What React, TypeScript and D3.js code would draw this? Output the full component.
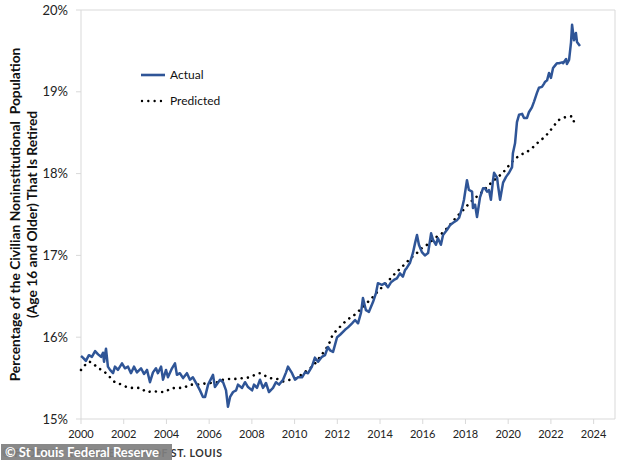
import React from "react";
import * as d3 from "d3";

const actualYears = [2000.00,2000.09,2000.23,2000.37,2000.51,2000.66,2000.80,2000.94,2001.03,2001.08,2001.17,2001.26,2001.36,2001.50,2001.59,2001.73,2001.92,2002.06,2002.20,2002.34,2002.48,2002.62,2002.81,2002.95,2003.09,2003.23,2003.37,2003.51,2003.60,2003.75,2003.84,2003.98,2004.07,2004.26,2004.40,2004.49,2004.63,2004.78,2004.96,2005.10,2005.24,2005.43,2005.57,2005.71,2005.81,2005.95,2006.18,2006.27,2006.51,2006.65,2006.79,2006.88,2006.98,2007.12,2007.26,2007.35,2007.54,2007.68,2007.82,2008.01,2008.10,2008.24,2008.38,2008.52,2008.66,2008.80,2008.99,2009.13,2009.27,2009.46,2009.60,2009.69,2009.88,2010.02,2010.16,2010.35,2010.49,2010.63,2010.81,2010.95,2011.10,2011.28,2011.42,2011.56,2011.66,2011.80,2011.99,2012.13,2012.36,2012.50,2012.69,2012.83,2012.97,2013.11,2013.20,2013.34,2013.48,2013.67,2013.81,2013.90,2014.09,2014.23,2014.37,2014.51,2014.65,2014.79,2014.93,2015.07,2015.17,2015.26,2015.40,2015.54,2015.64,2015.73,2015.82,2015.96,2016.10,2016.25,2016.39,2016.48,2016.62,2016.71,2016.85,2016.95,2017.13,2017.28,2017.42,2017.60,2017.70,2017.84,2017.93,2018.07,2018.16,2018.31,2018.35,2018.45,2018.54,2018.68,2018.82,2018.91,2019.01,2019.10,2019.19,2019.29,2019.34,2019.48,2019.52,2019.62,2019.76,2019.90,2020.04,2020.18,2020.22,2020.32,2020.41,2020.51,2020.65,2020.74,2020.88,2020.97,2021.11,2021.21,2021.35,2021.44,2021.58,2021.68,2021.72,2021.82,2021.91,2022.00,2022.10,2022.19,2022.28,2022.38,2022.52,2022.57,2022.71,2022.75,2022.85,2022.94,2022.99,2023.08,2023.17,2023.22,2023.36];
const actualValues = [15.77,15.75,15.71,15.78,15.76,15.83,15.79,15.76,15.81,15.70,15.86,15.64,15.60,15.56,15.64,15.60,15.68,15.62,15.64,15.56,15.64,15.57,15.62,15.55,15.60,15.45,15.57,15.62,15.56,15.64,15.48,15.60,15.51,15.62,15.68,15.54,15.56,15.50,15.56,15.48,15.51,15.42,15.35,15.27,15.27,15.42,15.54,15.39,15.48,15.45,15.35,15.15,15.27,15.33,15.35,15.42,15.38,15.45,15.39,15.35,15.42,15.38,15.48,15.38,15.44,15.33,15.38,15.45,15.42,15.48,15.57,15.64,15.56,15.48,15.51,15.51,15.57,15.56,15.64,15.75,15.70,15.76,15.78,15.88,15.84,15.82,16.00,16.03,16.09,16.12,16.17,16.21,16.17,16.30,16.48,16.33,16.31,16.43,16.54,16.66,16.64,16.66,16.61,16.67,16.70,16.72,16.78,16.74,16.82,16.85,16.91,17.03,17.15,17.25,17.13,17.04,17.00,17.03,17.27,17.19,17.13,17.21,17.13,17.25,17.31,17.37,17.40,17.43,17.46,17.58,17.68,17.92,17.80,17.78,17.58,17.62,17.47,17.71,17.82,17.82,17.78,17.80,17.68,17.92,18.01,17.95,17.86,17.68,17.89,17.96,18.01,18.08,18.25,18.37,18.63,18.72,18.73,18.68,18.68,18.75,18.81,18.88,18.99,19.05,19.06,19.10,19.12,19.14,19.23,19.17,19.29,19.32,19.35,19.35,19.36,19.35,19.40,19.34,19.39,19.60,19.82,19.63,19.72,19.61,19.56];

const predictedYears = [2000.00,2000.19,2000.37,2000.56,2000.80,2000.98,2001.17,2001.36,2001.59,2001.92,2002.15,2002.43,2002.76,2003.09,2003.37,2003.70,2003.93,2004.17,2004.49,2004.78,2005.10,2005.43,2005.71,2006.04,2006.37,2006.65,2006.98,2007.30,2007.58,2007.91,2008.15,2008.38,2008.61,2008.85,2009.18,2009.46,2009.78,2010.11,2010.39,2010.63,2010.96,2011.19,2011.42,2011.61,2011.75,2011.99,2012.22,2012.45,2012.69,2012.92,2013.16,2013.39,2013.62,2013.86,2014.09,2014.33,2014.56,2014.79,2015.03,2015.26,2015.50,2015.73,2015.96,2016.20,2016.43,2016.67,2016.90,2017.13,2017.42,2017.65,2017.88,2018.12,2018.35,2018.63,2018.87,2019.10,2019.34,2019.62,2019.85,2020.13,2020.37,2020.60,2020.83,2021.11,2021.35,2021.58,2021.82,2022.10,2022.28,2022.52,2022.75,2022.99,2023.08];
const predictedValues = [15.60,15.66,15.70,15.68,15.62,15.60,15.56,15.51,15.45,15.42,15.39,15.38,15.38,15.33,15.34,15.33,15.33,15.37,15.38,15.38,15.42,15.42,15.43,15.44,15.45,15.48,15.49,15.49,15.50,15.51,15.54,15.56,15.53,15.50,15.49,15.46,15.48,15.50,15.56,15.60,15.68,15.76,15.84,15.92,16.01,16.09,16.15,16.21,16.25,16.30,16.36,16.42,16.48,16.55,16.61,16.67,16.74,16.80,16.86,16.92,16.98,17.03,17.09,17.13,17.18,17.23,17.27,17.33,17.42,17.49,17.55,17.62,17.68,17.74,17.80,17.86,17.92,17.98,18.04,18.13,18.19,18.23,18.26,18.31,18.37,18.42,18.48,18.57,18.63,18.68,18.69,18.70,18.63];

const xTickYears = [2000,2002,2004,2006,2008,2010,2012,2014,2016,2018,2020,2022,2024];
const yTickValues = [15,16,17,18,19,20];
const legendLabels = ["Actual", "Predicted"];
const yTitleLines = ["Percentage of the Civilian Noninstitutional  Population", "(Age 16 and Older) That Is Retired"];

const W = 634, H = 460;
const L = 81, R = 615, T = 10, B = 419;
const FONT = "Lato, 'Open Sans', sans-serif";
const BLUE = "#2F5597";
const GRID = "#d9d9d9";

export default function App() {
  const x = d3.scaleLinear().domain([2000, 2025]).range([L, R]);
  const y = d3.scaleLinear().domain([15, 20]).range([B, T]);

  const actualLine = d3.line<number>()
    .x((_, i) => x(actualYears[i]))
    .y((v) => y(v))
    .curve(d3.curveLinear)(actualValues) || "";

  const predictedLine = d3.line<number>()
    .x((_, i) => x(predictedYears[i]))
    .y((v) => y(v))
    .curve(d3.curveMonotoneX)(predictedValues) || "";

  const titleCenterY = (T + B) / 2;

  return (
    <svg width={W} height={H} style={{ position: "absolute", left: 0, top: 0, background: "#fff" }}>
      <rect x={0} y={0} width={W} height={H} fill="#fff" />
      {/* plot frame */}
      <line x1={L} y1={T} x2={R} y2={T} stroke={GRID} strokeWidth={1} />
      <line x1={R} y1={T} x2={R} y2={B} stroke={GRID} strokeWidth={1} />
      <line x1={L} y1={T} x2={L} y2={B} stroke={GRID} strokeWidth={1} />
      <line x1={L} y1={B} x2={R} y2={B} stroke={GRID} strokeWidth={1} />

      {/* y ticks */}
      {yTickValues.map((v) => (
        <g key={v}>
          <line x1={L - 5} x2={L} y1={y(v)} y2={y(v)} stroke={GRID} />
          <text x={68} y={y(v)} dy="0.35em" textAnchor="end" fontFamily={FONT} fontSize={13} fill="#222">
            {`${v}%`}
          </text>
        </g>
      ))}

      {/* x ticks */}
      {xTickYears.map((t) => (
        <g key={t}>
          <line x1={x(t)} x2={x(t)} y1={B} y2={B + 5} stroke={GRID} />
          <text x={x(t)} y={438} textAnchor="middle" fontFamily={FONT} fontSize={11} fill="#222">
            {t}
          </text>
        </g>
      ))}

      {/* y title */}
      <g transform={`translate(20, ${titleCenterY}) rotate(-90)`}>
        <text x={0} y={0} textAnchor="middle" fontFamily={FONT} fontWeight="bold" fontSize={13.8} fill="#111" style={{ whiteSpace: "pre" }}>
          {yTitleLines[0]}
        </text>
        <text x={0} y={17} textAnchor="middle" fontFamily={FONT} fontWeight="bold" fontSize={13.8} fill="#111">
          {yTitleLines[1]}
        </text>
      </g>

      {/* predicted dotted */}
      <path d={predictedLine} fill="none" stroke="#000" strokeWidth={2.6} strokeLinecap="round" strokeDasharray="0.01 6.3" />
      {/* actual */}
      <path d={actualLine} fill="none" stroke={BLUE} strokeWidth={2.5} strokeLinejoin="round" />

      {/* legend */}
      <line x1={141} x2={165} y1={75} y2={75} stroke={BLUE} strokeWidth={2.6} />
      <text x={170} y={75} dy="0.35em" fontFamily={FONT} fontSize={12} fill="#111">{legendLabels[0]}</text>
      <line x1={142} x2={163} y1={101} y2={101} stroke="#000" strokeWidth={2.4} strokeLinecap="round" strokeDasharray="0.01 6.3" />
      <text x={170} y={101} dy="0.35em" fontFamily={FONT} fontSize={12} fill="#111">{legendLabels[1]}</text>

      {/* source / watermark */}
      <text x={2} y={457} fontFamily={FONT} fontWeight="bold" fontSize={10.5} fill="#333" letterSpacing={0.55}>
        © FEDERAL RESERVE BANK OF ST. LOUIS
      </text>
      <rect x={1} y={444} width={171} height={16} fill="#7f7f7f" opacity={0.92} />
      <text x={5} y={457} fontFamily={FONT} fontWeight="bold" fontSize={13} fill="#fff">
        © St Louis Federal Reserve
      </text>
    </svg>
  );
}
